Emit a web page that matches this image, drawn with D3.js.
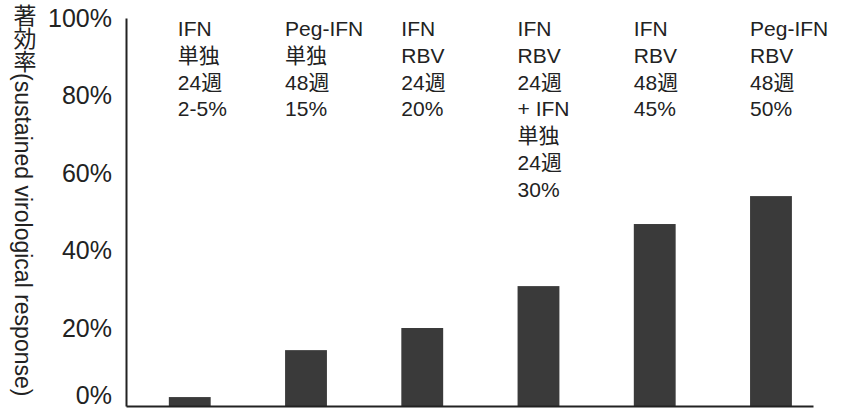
<!DOCTYPE html>
<html>
<head>
<meta charset="utf-8">
<script src="https://cdn.jsdelivr.net/npm/d3@7"></script>
<style>
  html, body { margin: 0; padding: 0; background: #fff; }
  svg { display: block; }
  text { font-family: "Liberation Sans", Arial, "Noto Sans CJK JP", sans-serif; fill: #222; }
</style>
</head>
<body>
<svg id="chart" width="845" height="409"></svg>
<script>
// ---- data ----
const categories = ["IFN単独24週", "Peg-IFN単独48週", "IFN RBV 24週", "IFN RBV 24週 + IFN単独24週", "IFN RBV 48週", "Peg-IFN RBV 48週"];
const values = [2.3, 14.4, 20.1, 30.9, 46.9, 54.1];
const labelLines = [
  ["IFN", "単独", "24週", "2-5%"],
  ["Peg-IFN", "単独", "48週", "15%"],
  ["IFN", "RBV", "24週", "20%"],
  ["IFN", "RBV", "24週", "+ IFN", "単独", "24週", "30%"],
  ["IFN", "RBV", "48週", "45%"],
  ["Peg-IFN", "RBV", "48週", "50%"]
];
const yTicks = [0, 20, 40, 60, 80, 100];
const yTitle = "著効率(sustained virological response)";

// ---- layout ----
const svg = d3.select("#chart");
const x = d3.scaleBand()
  .domain(categories)
  .range([126, 813])
  .paddingInner(0.64)
  .paddingOuter(0.275)
  .align(0.67);
const y = d3.scaleLinear().domain([0, 100]).range([406, 18]);

// bars
svg.append("g").selectAll("rect")
  .data(values)
  .join("rect")
  .attr("x", (d, i) => x(categories[i]))
  .attr("y", d => y(d))
  .attr("width", x.bandwidth())
  .attr("height", d => y(0) - y(d))
  .attr("fill", "#3a3a3a");

// y axis
const yAxis = svg.append("g")
  .attr("transform", "translate(126,0)")
  .call(d3.axisLeft(y).tickValues(yTicks).tickFormat(d => d + "%").tickSize(0).tickPadding(14));
yAxis.select(".domain").attr("stroke", "#222").attr("stroke-width", 2);
yAxis.selectAll("text")
  .style("font-size", "25px")
  .style("font-family", "'Liberation Sans', Arial, sans-serif")
  .attr("fill", "#222");
// keep the bottom label inside the picture
yAxis.selectAll(".tick").filter(d => d === 0).select("text").attr("y", -11);

// x axis (baseline only)
const xAxis = svg.append("g")
  .attr("transform", "translate(0,406)")
  .call(d3.axisBottom(x).tickSize(0).tickSizeOuter(0).tickFormat(""));
xAxis.select(".domain").attr("stroke", "#222").attr("stroke-width", 2);

// y title (vertical writing)
svg.append("text")
  .attr("x", 23)
  .attr("y", 4)
  .style("writing-mode", "vertical-rl")
  .style("font-size", "23px")
  .text(yTitle);

// annotations above bars
const ann = svg.append("g").selectAll("text")
  .data(labelLines)
  .join("text")
  .attr("y", 36)
  .style("font-size", "21px");
ann.each(function(lines, i) {
  const t = d3.select(this);
  const x0 = x(categories[i]) + (i === 0 ? 9 : 0);
  lines.forEach((ln, j) => {
    t.append("tspan")
      .attr("x", x0)
      .attr("dy", j === 0 ? 0 : 26.8)
      .text(ln);
  });
});
</script>
</body>
</html>
